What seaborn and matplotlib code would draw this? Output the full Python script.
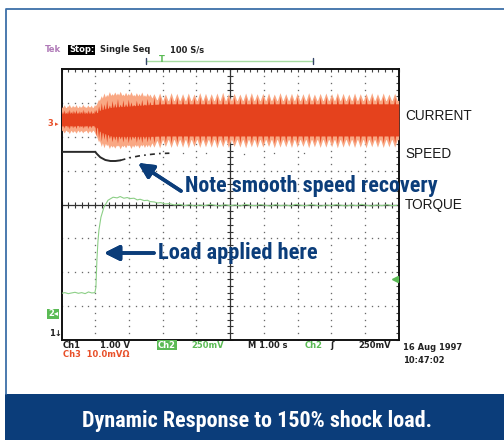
import numpy as np
import pandas as pd
import matplotlib
matplotlib.use("Agg")
import matplotlib.pyplot as plt
import matplotlib.font_manager as fm
import seaborn as sns
from matplotlib.lines import Line2D
from matplotlib.patches import Rectangle

# ---------------- data (in graticule divisions) ----------------
# current (Ch3) spikes: times and peak values
spike_t = [0.03, 0.08, 0.13, 0.18, 0.23, 0.28, 0.33, 0.38, 0.43, 0.48,
           0.53, 0.58, 0.63, 0.68, 0.73, 0.78, 0.83, 0.88, 0.93, 0.98,
           1.02, 1.10, 1.18, 1.26, 1.34, 1.42, 1.50, 1.58, 1.66, 1.74,
           1.82, 1.90, 1.98, 2.06, 2.14, 2.22, 2.30, 2.38, 2.46, 2.54, 2.62,
           2.74, 2.91, 3.08, 3.25, 3.42, 3.59, 3.76, 3.93, 4.10, 4.27,
           4.44, 4.61, 4.78, 4.95, 5.12, 5.29, 5.46, 5.63, 5.80, 5.97,
           6.14, 6.31, 6.48, 6.65, 6.82, 6.99, 7.16, 7.33, 7.50, 7.67,
           7.84, 8.01, 8.18, 8.35, 8.52, 8.69, 8.86, 9.03, 9.20, 9.37,
           9.54, 9.71, 9.88]
light_top = [2.90, 2.95, 2.88, 2.93, 2.97, 2.89, 2.94, 2.91, 2.96, 2.88,
             2.93, 2.90, 2.97, 2.92, 2.89, 2.95, 2.91, 2.94, 2.88, 2.96,
             2.95, 3.12, 3.22, 3.30, 3.26, 3.34, 3.28, 3.33, 3.30, 3.35,
             3.27, 3.32, 3.29, 3.34, 3.26, 3.31, 3.28, 3.33, 3.25, 3.30, 3.27,
             3.28, 3.30, 3.27, 3.31, 3.29, 3.28, 3.30, 3.27, 3.31, 3.29,
             3.28, 3.30, 3.32, 3.28, 3.29, 3.27, 3.30, 3.31, 3.28, 3.29,
             3.30, 3.27, 3.31, 3.28, 3.29, 3.30, 3.28, 3.31, 3.27, 3.29,
             3.30, 3.28, 3.31, 3.29, 3.27, 3.30, 3.28, 3.29, 3.31, 3.28,
             3.30, 3.27, 3.29]
light_bot = [2.18, 2.12, 2.20, 2.15, 2.10, 2.19, 2.13, 2.17, 2.11, 2.20,
             2.14, 2.18, 2.12, 2.16, 2.19, 2.11, 2.17, 2.13, 2.20, 2.14,
             2.05, 1.85, 1.72, 1.68, 1.74, 1.66, 1.70, 1.67, 1.73, 1.65,
             1.71, 1.68, 1.74, 1.66, 1.70, 1.72, 1.67, 1.73, 1.69, 1.71, 1.70,
             1.70, 1.68, 1.72, 1.69, 1.71, 1.70, 1.68, 1.72, 1.69, 1.71,
             1.70, 1.68, 1.71, 1.69, 1.72, 1.70, 1.68, 1.71, 1.69, 1.70,
             1.72, 1.68, 1.70, 1.71, 1.69, 1.70, 1.72, 1.68, 1.71, 1.69,
             1.70, 1.71, 1.68, 1.70, 1.72, 1.69, 1.70, 1.68, 1.71, 1.70,
             1.69, 1.71, 1.70]
dark_top = [2.76, 2.80, 2.73, 2.78, 2.82, 2.75, 2.79, 2.77, 2.81, 2.74,
            2.78, 2.76, 2.82, 2.77, 2.74, 2.80, 2.76, 2.79, 2.73, 2.81,
            2.82, 2.92, 3.02, 2.98, 3.10, 2.95, 3.08, 3.00, 3.14, 2.97,
            3.10, 2.99, 3.12, 3.04, 2.96, 3.09, 3.01, 3.11, 2.98, 3.14, 3.05,
            3.18, 3.20, 3.16, 3.19, 3.17, 3.18, 3.20, 3.16, 3.19, 3.18,
            3.17, 3.19, 3.21, 3.17, 3.18, 3.16, 3.19, 3.20, 3.17, 3.18,
            3.19, 3.16, 3.20, 3.17, 3.18, 3.19, 3.17, 3.20, 3.16, 3.18,
            3.19, 3.17, 3.20, 3.18, 3.16, 3.19, 3.17, 3.18, 3.20, 3.17,
            3.19, 3.16, 3.18]
dark_bot = [2.30, 2.26, 2.33, 2.28, 2.24, 2.32, 2.27, 2.30, 2.25, 2.33,
            2.28, 2.31, 2.26, 2.29, 2.32, 2.25, 2.30, 2.27, 2.33, 2.28,
            2.02, 1.96, 1.88, 1.93, 1.84, 1.95, 1.86, 1.91, 1.82, 1.94,
            1.85, 1.92, 1.83, 1.90, 1.95, 1.84, 1.91, 1.83, 1.93, 1.85, 1.89,
            1.83, 1.81, 1.85, 1.82, 1.84, 1.83, 1.81, 1.85, 1.82, 1.84,
            1.83, 1.81, 1.84, 1.82, 1.85, 1.83, 1.81, 1.84, 1.82, 1.83,
            1.85, 1.81, 1.83, 1.84, 1.82, 1.83, 1.85, 1.81, 1.84, 1.82,
            1.83, 1.84, 1.81, 1.83, 1.85, 1.82, 1.83, 1.81, 1.84, 1.83,
            1.82, 1.84, 1.83]
# current trough envelope between spikes
env_t = [0.0, 1.0, 1.15, 1.5, 2.7, 3.0, 10.0]
light_hi_env = [2.80, 2.80, 3.02, 3.18, 3.12, 3.08, 3.08]
light_lo_env = [2.24, 2.24, 1.98, 1.80, 1.86, 1.92, 1.92]
dark_hi_env = [2.68, 2.68, 2.80, 2.88, 2.96, 2.98, 2.98]
dark_lo_env = [2.35, 2.35, 2.15, 2.02, 2.02, 2.03, 2.03]

# speed (Ch1)
speed_t = [0.0, 1.0, 1.05, 1.15, 1.30, 1.45, 1.60, 1.75]
speed_v = [1.56, 1.56, 1.50, 1.40, 1.32, 1.29, 1.29, 1.31]
speed_dash_t = [1.75, 2.0, 2.3, 2.6, 2.9, 3.2]
speed_dash_v = [1.31, 1.38, 1.44, 1.48, 1.51, 1.52]
speed_dot_t = [3.6, 4.3, 5.4, 6.3, 7.2]
speed_dot_v = [1.52, 1.53, 1.51, 1.53, 1.52]

# torque (Ch2)
torque_t = [0.0, 0.1, 0.2, 0.3, 0.4, 0.5, 0.6, 0.7, 0.8, 0.9, 0.99,
            1.02, 1.05, 1.08, 1.11, 1.17, 1.26, 1.38, 1.53, 1.65, 1.74,
            1.85, 1.95, 2.03, 2.15, 2.25, 2.33, 2.45, 2.55, 2.63, 2.75,
            2.85, 2.95, 3.07, 3.2, 3.35, 3.5, 3.65, 3.8, 3.95, 4.1,
            4.25, 4.4, 4.55, 4.7, 4.85, 5.0, 5.15, 5.3, 5.45, 5.6,
            5.75, 5.9, 6.05, 6.2, 6.35, 6.5, 6.65, 6.8, 6.95, 7.1,
            7.25, 7.4, 7.55, 7.7, 7.85, 8.0, 8.15, 8.3, 8.45, 8.6,
            8.75, 8.9, 9.05, 9.2, 9.35, 9.5, 9.65, 9.8, 9.95]
torque_v = [-2.62, -2.60, -2.63, -2.61, -2.59, -2.62, -2.60, -2.63, -2.58, -2.61, -2.60,
            -2.45, -1.64, -1.10, -0.75, -0.37, -0.07, 0.13, 0.22, 0.20, 0.24,
            0.19, 0.21, 0.18, 0.19, 0.14, 0.16, 0.12, 0.13, 0.09, 0.08,
            0.05, 0.06, 0.02, 0.03, -0.01, 0.01, -0.03, 0.00, -0.04, -0.01,
            -0.03, 0.01, -0.02, -0.04, 0.00, -0.03, -0.01, -0.04, 0.01, -0.02,
            -0.03, 0.00, -0.02, -0.04, 0.00, -0.03, -0.01, -0.04, 0.01, -0.02,
            -0.03, 0.00, -0.02, -0.04, -0.01, -0.03, 0.00, -0.02, -0.04, -0.01,
            -0.03, 0.01, -0.02, -0.04, -0.01, -0.03, 0.00, -0.03, -0.02]

trace_labels = ["CURRENT", "SPEED", "TORQUE"]
trace_label_y = [116, 154, 205]

# ---------------- style ----------------
W, H = 504, 440
NAVY = "#0b3d7a"
LIGHT = "#f9a884"
DARK = "#e5421d"
GREEN = "#8ccf86"
GREEN_BOX = "#5bbb55"
RED_TXT = "#e8502a"

sns.set_style("white")
plt.rcParams["font.family"] = ["DejaVu Sans"]


def pick_condensed_bold():
    best, score = None, -1
    for f in fm.fontManager.ttflist:
        nm, fn = f.name.lower(), f.fname.lower()
        narrow = ("narrow" in nm or "condensed" in nm or "narrow" in fn
                  or "condensed" in fn or "condensed" in str(f.stretch))
        bold = (str(f.weight) in ("bold", "700", "800") or "bold" in fn)
        if not (narrow and bold):
            continue
        if "italic" in fn or "oblique" in fn or "mono" in nm or "serif" in nm.replace("sans", ""):
            continue
        s = 1
        if "liberation" in nm:
            s = 5
        elif "roboto" in nm:
            s = 4
        elif "noto" in nm or "open" in nm:
            s = 3
        elif "dejavu" in nm:
            s = 2
        if "extra" in fn or "semi" in fn:
            s -= 1
        if s > score:
            best, score = f.fname, s
    if best:
        return fm.FontProperties(fname=best)
    return fm.FontProperties(family="Roboto", weight="bold")


COND = pick_condensed_bold()

fig = plt.figure(figsize=(W / 100, H / 100), dpi=100)
fig.patch.set_facecolor("white")


def fx(x):
    return x / W


def fy(y):
    return 1 - y / H


L, R, T_, B = 61.5, 398.7, 69.3, 340.0
ax = fig.add_axes([fx(L), fy(B), (R - L) / W, (B - T_) / H])
ax.set_xlim(0, 10)
ax.set_ylim(-4, 4)
ax.set_facecolor("white")
for s in ax.spines.values():
    s.set_color("#111111")
    s.set_linewidth(1.4)
ax.set_xticks(range(0, 11))
ax.set_yticks(range(-4, 5))
ax.set_xticks(np.arange(0, 10.01, 0.2), minor=True)
ax.set_yticks(np.arange(-4, 4.01, 0.2), minor=True)
ax.tick_params(which="both", direction="in", top=True, right=True,
               labelbottom=False, labelleft=False, length=2.5, width=0.8,
               color="#444444")

# graticule dots
gx, gy = [], []
for xm in range(1, 10):
    if xm == 5:
        continue
    for yy in np.arange(-4, 4.01, 0.2):
        gx.append(xm); gy.append(yy)
for ym in range(-3, 4):
    if ym == 0:
        continue
    for xx in np.arange(0, 10.01, 0.2):
        gx.append(xx); gy.append(ym)
ax.plot(gx, gy, ls="none", marker="s", ms=0.95, mew=0, color="#6a6a6a", zorder=1)
# center cross
ax.axhline(0, color="#333333", lw=0.9, zorder=1)
ax.axvline(5, color="#333333", lw=0.9, zorder=1)
cy = np.arange(-4, 4.01, 0.2)
cx = np.arange(0, 10.01, 0.2)
ax.plot([5] * len(cy), cy, ls="none", marker="_", ms=4.5, mew=0.8, color="#333333", zorder=1)
ax.plot(cx, [0] * len(cx), ls="none", marker="|", ms=4.5, mew=0.8, color="#333333", zorder=1)

# current rendering (sample the spike shapes on a fine grid)
xs = np.linspace(0, 10, 5000)


def envelope(base_env, peaks, hw, upper=True):
    base = np.interp(xs, env_t, base_env)
    out = base.copy()
    for t, p in zip(spike_t, peaks):
        b = np.interp(t, env_t, base_env)
        tri = p - (p - b) * np.abs(xs - t) / hw
        m = np.abs(xs - t) <= hw
        if upper:
            out[m] = np.maximum(out[m], tri[m])
        else:
            out[m] = np.minimum(out[m], tri[m])
    return out


lh = envelope(light_hi_env, light_top, 0.075, True)
ll = envelope(light_lo_env, light_bot, 0.075, False)
dh = envelope(dark_hi_env, dark_top, 0.028, True)
dl = envelope(dark_lo_env, dark_bot, 0.028, False)
ax.fill_between(xs, ll, lh, color=LIGHT, lw=0, zorder=3)
ax.fill_between(xs, dl, dh, color=DARK, lw=0, zorder=4)

# speed
sns.lineplot(x=speed_t, y=speed_v, ax=ax, color="#2a2a2a", lw=1.4, zorder=5)
sns.lineplot(x=speed_dash_t, y=speed_dash_v, ax=ax, color="#2a2a2a", lw=1.2,
             zorder=5)
ax.lines[-1].set_linestyle((0, (3, 2.5, 1, 2.5)))
ax.plot(speed_dot_t, speed_dot_v, ls="none", marker="s", ms=0.9, mew=0,
        color="#666666", zorder=5)

# torque
sns.lineplot(x=torque_t, y=torque_v, ax=ax, color=GREEN, lw=0.8, zorder=5)

# green trigger-level marker on right
ax.plot([9.88], [-2.2], marker="<", ms=4, color=GREEN_BOX, zorder=6, clip_on=False)

# ---------------- texts ----------------
mono = dict(family="DejaVu Sans", weight="bold", fontsize=6.0, va="center")
fig.text(fx(45), fy(50), "Tek", color="#b07ab8", **mono)
fig.text(fx(69), fy(50), "Stop:", color="white",
         bbox=dict(facecolor="black", edgecolor="none", pad=0.6), **mono)
fig.text(fx(100), fy(50), "Single Seq", color="#222222", **mono)
fig.text(fx(170), fy(50), "100 S/s", color="#222222", **mono)
# acquisition bracket
fig.add_artist(Line2D([fx(146), fx(313)], [fy(61), fy(61)], color="#a6dca0", lw=1))
fig.add_artist(Line2D([fx(146), fx(146)], [fy(58), fy(64)], color="#334466", lw=1))
fig.add_artist(Line2D([fx(313), fx(313)], [fy(58), fy(64)], color="#334466", lw=1))
fig.text(fx(162), fy(60), "T", color=GREEN_BOX, ha="center", **mono)

# channel markers
fig.text(fx(47), fy(124), "3", color=RED_TXT, **mono)
fig.text(fx(55), fy(124), "▸", color=RED_TXT, family="DejaVu Sans", fontsize=5, va="center")
fig.text(fx(48), fy(314), "2◂", color="white",
         bbox=dict(facecolor=GREEN_BOX, edgecolor="none", pad=0.5), **mono)
fig.text(fx(49), fy(334), "1↓", color="#222222", **mono)

# bottom readout
fig.text(fx(63), fy(345), "Ch1", color="#222222", **mono)
fig.text(fx(100), fy(345), "1.00 V", color="#222222", **mono)
fig.text(fx(158), fy(345), "Ch2", color="white",
         bbox=dict(facecolor=GREEN_BOX, edgecolor="none", pad=0.4), **mono)
fig.text(fx(191), fy(345), "250mV", color=GREEN_BOX, **mono)
fig.text(fx(248), fy(345), "M 1.00 s", color="#222222", **mono)
fig.text(fx(305), fy(345), "Ch2", color=GREEN_BOX, **mono)
fig.text(fx(330), fy(345), "ʃ", color="#222222", **mono)
fig.text(fx(358), fy(345), "250mV", color="#222222", **mono)
fig.text(fx(63), fy(354), "Ch3  10.0mVΩ", color=RED_TXT, **mono)
fig.text(fx(403), fy(347), "16 Aug 1997", color="#222222", **mono)
fig.text(fx(403), fy(360), "10:47:02", color="#222222", **mono)

# trace names
for lab, yy in zip(trace_labels, trace_label_y):
    fig.text(fx(405), fy(yy), lab, color="#1a1a1a", family="Liberation Sans",
             fontsize=9.8, va="center")

# annotations (condensed bold, fitted to the reference widths)
renderer = fig.canvas.get_renderer()


def fitted(x, y, s, width_px, color, ha="left", size0=16):
    t = fig.text(fx(x), fy(y), s, color=color, fontproperties=COND, ha=ha,
                 va="center", fontsize=size0)
    w = t.get_window_extent(renderer).width
    t.set_fontsize(size0 * width_px / w)
    return t


fitted(185, 186, "Note smooth speed recovery", 252, NAVY)
fitted(158, 253, "Load applied here", 160, NAVY)
ap = dict(arrowstyle="-|>,head_length=0.9,head_width=0.45", lw=2.6,
          color=NAVY, shrinkA=0, shrinkB=0)
fig.add_artist(plt.annotate("", xy=(138, H - 163), xycoords="figure pixels",
                            xytext=(181, H - 191), textcoords="figure pixels",
                            arrowprops=ap))
fig.add_artist(plt.annotate("", xy=(104, H - 253), xycoords="figure pixels",
                            xytext=(154, H - 253), textcoords="figure pixels",
                            arrowprops=ap))

# outer frame and banner
fig.add_artist(Line2D([fx(5.5), fx(5.5), fx(504)], [fy(394), fy(9), fy(9)],
                      color="#3d6fa8", lw=1.3))
fig.add_artist(Rectangle((fx(5), 0), fx(499), 46 / H, transform=fig.transFigure,
                         facecolor=NAVY, edgecolor="none"))
fitted(257, 421, "Dynamic Response to 150% shock load.", 350, "white", ha="center")

fig.savefig("out.png", dpi=100)
